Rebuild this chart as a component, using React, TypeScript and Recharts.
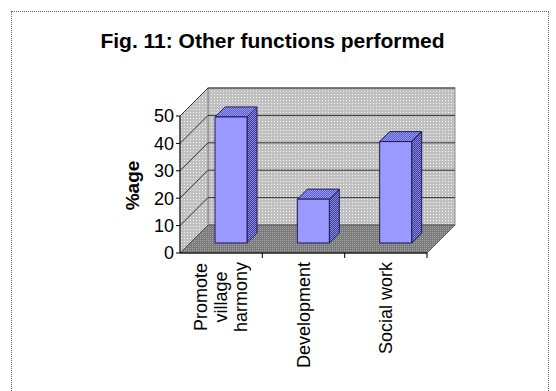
import React from 'react';
import { BarChart, Bar, XAxis, YAxis, ReferenceArea } from 'recharts';

// categories (line breaks are kept in the tick labels)
const categories = ['Promote\nvillage\nharmony', 'Development', 'Social work'];
const shares = [46, 16, 37];
const yTicks = [0, 10, 20, 30, 40, 50];
const Y_MAX = 50;

const data = categories.map((name, i) => ({ name, value: shares[i] }));

const FONT = '"Liberation Sans", Arial, Helvetica, sans-serif';
const TICK_SIZE = 18;
const LINE_H = 20;

// 3d look: depth of the walls, and where the bars sit inside that depth
const DEPTH = 28;
const BAR_SHIFT = 10;
const BAR_DEPTH = 10;

let ctx: CanvasRenderingContext2D | null = null;
function textWidth(s: string, size: number) {
  if (!ctx) ctx = document.createElement('canvas').getContext('2d');
  if (!ctx) return s.length * size * 0.55;
  ctx.font = `${size}px ${FONT}`;
  return ctx.measureText(s).width;
}

function Walls(props: any) {
  const { x, y, width, height } = props;
  const d = DEPTH;
  const bottom = y + height;
  const pts = (arr: number[][]) => arr.map((p) => p.join(',')).join(' ');
  return (
    <g>
      {/* back wall */}
      <rect x={x + d} y={y - d} width={width} height={height} fill="url(#wallDots)" stroke="#8a8a8a" />
      {/* side wall */}
      <polygon
        points={pts([[x, bottom], [x, y], [x + d, y - d], [x + d, bottom - d]])}
        fill="url(#wallDots)"
        stroke="#8a8a8a"
      />
      {/* floor */}
      <polygon
        points={pts([[x, bottom], [x + width, bottom], [x + width + d, bottom - d], [x + d, bottom - d]])}
        fill="url(#floorDots)"
        stroke="#555"
      />
      {yTicks
        .filter((t) => t > 0)
        .map((t) => {
          const yy = y + height * (1 - t / Y_MAX);
          return (
            <polyline
              key={t}
              points={pts([[x, yy], [x + d, yy - d], [x + d + width, yy - d]])}
              fill="none"
              stroke="#333"
              strokeWidth={1}
            />
          );
        })}
    </g>
  );
}

function Bar3D(props: any) {
  const { x, y, width, height } = props;
  if (!height || height <= 0) return null;
  const fx = x + BAR_SHIFT;
  const fy = y - BAR_SHIFT;
  const b = BAR_DEPTH;
  const pts = (arr: number[][]) => arr.map((p) => p.join(',')).join(' ');
  return (
    <g stroke="#1c1c50" strokeWidth={1} strokeLinejoin="round">
      <polygon
        points={pts([[fx + width, fy], [fx + width + b, fy - b], [fx + width + b, fy + height - b], [fx + width, fy + height]])}
        fill="url(#sideDots)"
      />
      <polygon
        points={pts([[fx, fy], [fx + b, fy - b], [fx + width + b, fy - b], [fx + width, fy]])}
        fill="url(#topDots)"
      />
      <rect x={fx} y={fy} width={width} height={height} fill="#9999ff" />
    </g>
  );
}

function CategoryTick(props: any) {
  const { x, y, payload } = props;
  const lines = String(payload.value).split('\n');
  const half = payload.offset || 41;
  const longest = Math.max(...lines.map((l) => textWidth(l, TICK_SIZE)));
  const cy = y + 9 + longest / 2;
  const first = -((lines.length - 1) / 2) * LINE_H + TICK_SIZE * 0.35;
  return (
    <g>
      <line x1={x + half} y1={y} x2={x + half} y2={y + 5} stroke="#000" />
      <text
        x={x}
        y={cy}
        transform={`rotate(-90 ${x} ${cy})`}
        textAnchor="middle"
        fontSize={TICK_SIZE}
        fontFamily={FONT}
        fill="#000"
      >
        {lines.map((l, i) => (
          <tspan key={l} x={x} dy={i === 0 ? first : LINE_H}>
            {l}
          </tspan>
        ))}
      </text>
    </g>
  );
}

function AxisTitle(props: any) {
  const { x, y, height } = props.viewBox;
  const cx = x + 29;
  const cy = y + height / 2 + 1;
  return (
    <text
      x={cx}
      y={cy}
      transform={`rotate(-90 ${cx} ${cy})`}
      textAnchor="middle"
      fontSize={19}
      fontWeight="bold"
      fontFamily={FONT}
      fill="#000"
    >
      %age
    </text>
  );
}

export default function App() {
  return (
    <div style={{ position: 'absolute', left: 0, top: 0, width: 556, height: 391, background: '#fff', fontFamily: FONT }}>
      <div
        style={{
          position: 'absolute',
          left: 11,
          top: 11,
          width: 538,
          height: 380,
          boxSizing: 'border-box',
          border: '1px dotted #666',
          borderBottom: 'none',
        }}
      />
      <div
        style={{
          position: 'absolute',
          left: 0,
          top: 30,
          width: 545,
          textAlign: 'center',
          fontSize: 21,
          lineHeight: '21px',
          fontWeight: 'bold',
          color: '#000',
        }}
      >
        Fig. 11: Other functions performed
      </div>
      <div style={{ position: 'absolute', left: 0, top: 0 }}>
        <BarChart width={556} height={391} data={data} margin={{ top: 116, right: 129, bottom: 38, left: 110 }}>
          <defs>
            <pattern id="wallDots" width="3" height="3" patternUnits="userSpaceOnUse">
              <rect width="3" height="3" fill="#c0c0c0" />
              <rect x="1" y="1" width="1" height="1" fill="#f4f4f4" />
            </pattern>
            <pattern id="floorDots" width="2" height="2" patternUnits="userSpaceOnUse">
              <rect width="2" height="2" fill="#7a7a7a" />
              <rect width="1" height="1" fill="#a6a6a6" />
            </pattern>
            <pattern id="sideDots" width="2" height="2" patternUnits="userSpaceOnUse">
              <rect width="2" height="2" fill="#3a3a88" />
              <rect width="1" height="1" fill="#8c8cf0" />
              <rect x="1" y="1" width="1" height="1" fill="#8c8cf0" />
            </pattern>
            <pattern id="topDots" width="2" height="2" patternUnits="userSpaceOnUse">
              <rect width="2" height="2" fill="#5a5ac4" />
              <rect width="1" height="1" fill="#9999ff" />
              <rect x="1" y="1" width="1" height="1" fill="#9999ff" />
            </pattern>
          </defs>
          <ReferenceArea y1={0} y2={Y_MAX} ifOverflow="visible" shape={(p: any) => <Walls {...p} />} />
          <XAxis
            dataKey="name"
            height={100}
            interval={0}
            tickLine={false}
            tickSize={0}
            tickMargin={0}
            axisLine={{ stroke: '#000' }}
            tick={<CategoryTick />}
          />
          <YAxis
            type="number"
            width={70}
            domain={[0, Y_MAX]}
            ticks={yTicks}
            interval={0}
            tickSize={4}
            tickMargin={2}
            axisLine={{ stroke: '#000' }}
            tickLine={{ stroke: '#000' }}
            tick={{ fill: '#000', fontSize: TICK_SIZE, fontFamily: FONT }}
            label={(p: any) => <AxisTitle {...p} />}
          />
          <Bar dataKey="value" barSize={32} isAnimationActive={false} shape={(p: any) => <Bar3D {...p} />} />
        </BarChart>
      </div>
    </div>
  );
}
